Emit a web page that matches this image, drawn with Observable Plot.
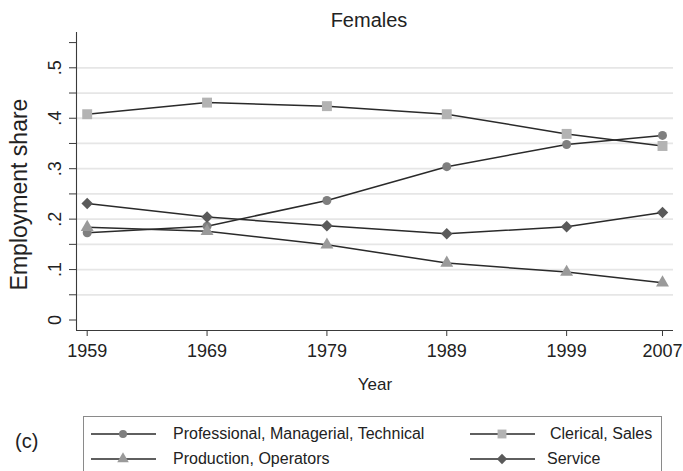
<!DOCTYPE html>
<html>
<head>
<meta charset="utf-8">
<script src="https://cdn.jsdelivr.net/npm/d3@7"></script>
<script src="https://cdn.jsdelivr.net/npm/@observablehq/plot@0.6"></script>
<style>
  html, body { margin: 0; padding: 0; background: #fff; }
  body { width: 683px; height: 471px; overflow: hidden; position: relative; font-family: "Liberation Sans", Arial, sans-serif; color: #222; }
  #chart { position: absolute; left: 0; top: 0; }
  #legend { position: absolute; left: 83px; top: 416px; width: 579px; height: 70px; border: 1px solid #8a8a8a; box-sizing: border-box; }
  .item { position: absolute; font-size: 16px; line-height: 20px; white-space: nowrap; }
  .item svg { position: absolute; top: 0; }
  .item span { position: absolute; top: 0; }
  #panel { position: absolute; left: 15px; top: 430px; font-size: 20px; }
</style>
</head>
<body>
<div id="chart"></div>
<div id="legend"></div>
<div id="panel">(c)</div>
<script>
// ---- data ----
const years = [1959, 1969, 1979, 1989, 1999, 2007];
const seriesNames = ["Professional, Managerial, Technical", "Clerical, Sales", "Production, Operators", "Service"];
const professional = [0.173, 0.186, 0.237, 0.304, 0.348, 0.366];
const clerical     = [0.408, 0.431, 0.424, 0.408, 0.369, 0.345];
const production   = [0.184, 0.176, 0.149, 0.113, 0.095, 0.074];
const service      = [0.231, 0.204, 0.187, 0.171, 0.185, 0.213];
const yLabelTicks = [0, 0.1, 0.2, 0.3, 0.4, 0.5];
const yMinorTicks = [0, 0.05, 0.1, 0.15, 0.2, 0.25, 0.3, 0.35, 0.4, 0.45, 0.5, 0.55];
const yGrid = [0.05, 0.1, 0.15, 0.2, 0.25, 0.3, 0.35, 0.4, 0.45, 0.5];

const seriesValues = [professional, clerical, production, service];
const styles = [
  {symbol: "circle", fill: "#7f7f7f", r: 4.5},
  {symbol: "square", fill: "#b3b3b3", r: 5.6},
  {symbol: "triangle", fill: "#9a9a9a", r: 4.8},
  {symbol: "diamond2", fill: "#5a5a5a", r: 5.2}
];

const rows = [];
seriesNames.forEach((s, i) => years.forEach((y, j) => rows.push({series: s, idx: i, year: y, value: seriesValues[i][j]})));

const xMin = 1958.107, xMax = 2007.918;
const yMin = -0.0208, yMax = 0.570;
const fmt = d => d === 0 ? "0" : String(d).replace(/^0/, "");

const chart = Plot.plot({
  width: 683,
  height: 410,
  marginLeft: 76,
  marginRight: 10,
  marginTop: 32,
  marginBottom: 80,
  style: {fontFamily: "'Liberation Sans', Arial, sans-serif", color: "#222", background: "transparent"},
  x: {domain: [xMin, xMax], axis: null},
  y: {domain: [yMin, yMax], axis: null},
  marks: [
    Plot.ruleY(yGrid, {stroke: "#e6e6e6", strokeWidth: 1.8}),
    Plot.ruleX([xMin], {stroke: "#3a3a3a", strokeWidth: 1.1}),
    Plot.ruleY([yMin], {stroke: "#3a3a3a", strokeWidth: 1.1}),
    Plot.axisY(yMinorTicks, {tickSize: 7, tickFormat: () => "", stroke: "#3a3a3a", label: null}),
    Plot.axisX(years, {tickSize: 6, tickFormat: () => "", stroke: "#3a3a3a", label: null}),
    Plot.text(yLabelTicks, {y: d => d, frameAnchor: "left", dx: -21, rotate: -90, text: fmt, fontSize: 18, fill: "#222", textAnchor: "middle", lineAnchor: "middle"}),
    Plot.text(years, {x: d => d, frameAnchor: "bottom", dy: 21, text: d => String(d), fontSize: 18, fill: "#222", textAnchor: "middle", lineAnchor: "middle"}),
    Plot.text(["Year"], {frameAnchor: "bottom", dy: 54, text: d => d, fontSize: 17, fill: "#222", textAnchor: "middle", lineAnchor: "middle"}),
    Plot.text(["Females"], {frameAnchor: "top", dy: -12, dx: -6, text: d => d, fontSize: 20, fill: "#222", textAnchor: "middle", lineAnchor: "middle"}),
    Plot.text(["Employment share"], {frameAnchor: "left", dx: -57, dy: 13, rotate: -90, text: d => d, fontSize: 23, fill: "#222", textAnchor: "middle", lineAnchor: "middle"}),
    Plot.line(rows, {x: "year", y: "value", z: "series", stroke: "#2a2a2a", strokeWidth: 1.5}),
    ...styles.map((st, i) => Plot.dot(rows.filter(d => d.idx === i), {x: "year", y: "value", symbol: () => st.symbol, r: st.r, fill: st.fill, stroke: "none"}))
  ]
});
document.getElementById("chart").appendChild(chart);

// ---- legend ----
const legend = document.getElementById("legend");
const pos = [
  {left: 6, top: 7, textLeft: 89},
  {left: 385, top: 7, textLeft: 466},
  {left: 6, top: 32, textLeft: 89},
  {left: 385, top: 32, textLeft: 463}
];
seriesNames.forEach((name, i) => {
  const p = pos[i], st = styles[i];
  const item = document.createElement("div");
  item.className = "item";
  item.style.left = p.left + "px";
  item.style.top = p.top + "px";
  const svg = d3.create("svg").attr("width", 70).attr("height", 20);
  svg.append("line").attr("x1", 1).attr("x2", 66).attr("y1", 10).attr("y2", 10).attr("stroke", "#2a2a2a").attr("stroke-width", 1.4);
  const sym = {circle: d3.symbolCircle, square: d3.symbolSquare, triangle: d3.symbolTriangle, diamond2: d3.symbolDiamond2}[st.symbol];
  svg.append("path").attr("transform", "translate(33,10)").attr("d", d3.symbol(sym, Math.PI * st.r * st.r * 0.8)()).attr("fill", st.fill);
  item.appendChild(svg.node());
  const span = document.createElement("span");
  span.style.left = (p.textLeft - p.left) + "px";
  span.textContent = name;
  item.appendChild(span);
  legend.appendChild(item);
});
</script>
</body>
</html>
